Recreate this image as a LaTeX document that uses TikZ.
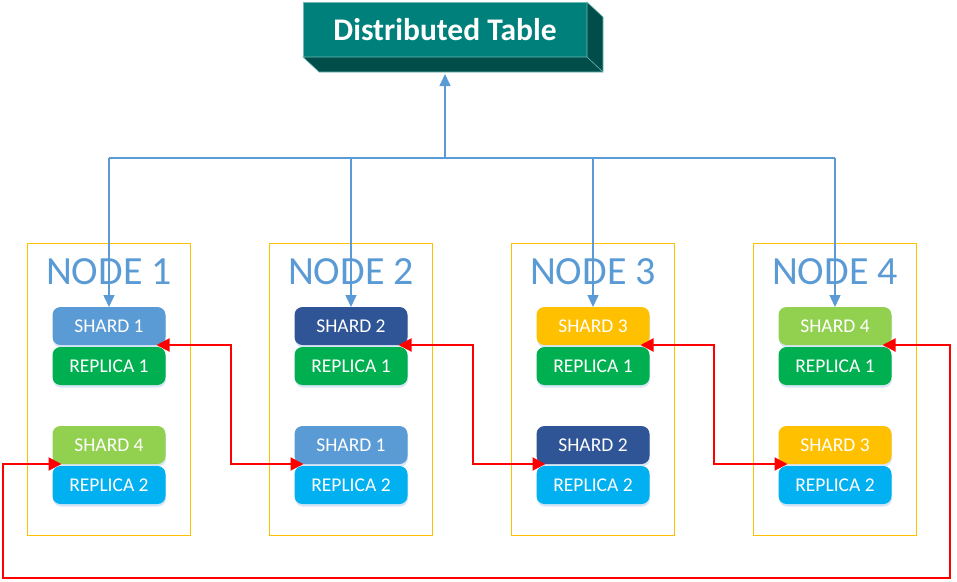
\documentclass[tikz,border=0pt]{standalone}
\usepackage{fontspec}
\setmainfont{Carlito}
\usetikzlibrary{arrows.meta,calc,shadows}

\definecolor{tealfront}{RGB}{0,128,122}
\definecolor{tealside}{RGB}{0,77,74}
\definecolor{tealedge}{RGB}{110,185,182}
\definecolor{feedblue}{RGB}{91,155,213}
\definecolor{hostgold}{RGB}{255,192,0}
\definecolor{shardA}{RGB}{91,155,213}
\definecolor{shardB}{RGB}{47,85,151}
\definecolor{shardC}{RGB}{255,192,0}
\definecolor{shardD}{RGB}{146,208,80}
\definecolor{replA}{RGB}{0,176,80}
\definecolor{replB}{RGB}{0,176,240}

\tikzset{
  titlebox/.style={fill=tealfront, draw=tealedge, line width=0.6pt, outer sep=0pt,
    minimum width=284pt, minimum height=55pt, text=white,
    font=\bfseries\fontsize{31.5}{31.5}\selectfont},
  hostbox/.style={draw=hostgold, line width=0.8pt, minimum width=163pt, minimum height=292pt},
  hostlabel/.style={text=feedblue, inner sep=0pt, font=\fontsize{40}{40}\selectfont},
  chip/.style={fill=#1, rounded corners=8pt, minimum width=113pt, minimum height=38pt,
    inner sep=0pt, outer sep=0pt, text=white, font=\fontsize{19.5}{20}\selectfont,
    drop shadow={shadow xshift=0.5pt, shadow yshift=-2.5pt, opacity=0.25, fill=feedblue}},
  feedline/.style={draw=feedblue, line width=1.5pt},
  feed/.style={feedline, -{Triangle[length=12pt,width=11pt]}},
  repl/.style={draw=red, line width=2pt,
    {Triangle[length=13pt,width=13pt]}-{Triangle[length=13pt,width=13pt]},
    shorten <=-9pt, shorten >=-9pt},
}

\begin{document}
\begin{tikzpicture}[x=1pt, y=-1pt]
  \useasboundingbox (0,0) rectangle (957,581);

  % table on top
  \node[titlebox] (title) at (445,29.5) {Distributed Table};
  \fill[tealside, draw=tealedge, line width=0.6pt]
    (title.south west) -- (title.south east) -- (title.north east)
    -- ++(16,15) -- ++(0,55) -- ++(-284,0) -- cycle;
  \draw[tealedge, line width=0.6pt] (title.south east) -- ++(16,15);

  % hosts
  \node[hostbox] (host1) at (109,389) {};
  \node[hostbox] (host2) at (351,389) {};
  \node[hostbox] (host3) at (593,389) {};
  \node[hostbox] (host4) at (835,389) {};
  \node[hostlabel] (lab1) at (109,272) {NODE 1};
  \node[hostlabel] (lab2) at (351,272) {NODE 2};
  \node[hostlabel] (lab3) at (593,272) {NODE 3};
  \node[hostlabel] (lab4) at (835,272) {NODE 4};

  % shards and replicas
  \node[chip=shardA] (sa1) at (109,326) {SHARD 1};
  \node[chip=replA]  (ra1) at (109,366) {REPLICA 1};
  \node[chip=shardD] (sb1) at (109,445) {SHARD 4};
  \node[chip=replB]  (rb1) at (109,485) {REPLICA 2};

  \node[chip=shardB] (sa2) at (351,326) {SHARD 2};
  \node[chip=replA]  (ra2) at (351,366) {REPLICA 1};
  \node[chip=shardA] (sb2) at (351,445) {SHARD 1};
  \node[chip=replB]  (rb2) at (351,485) {REPLICA 2};

  \node[chip=shardC] (sa3) at (593,326) {SHARD 3};
  \node[chip=replA]  (ra3) at (593,366) {REPLICA 1};
  \node[chip=shardB] (sb3) at (593,445) {SHARD 2};
  \node[chip=replB]  (rb3) at (593,485) {REPLICA 2};

  \node[chip=shardD] (sa4) at (835,326) {SHARD 4};
  \node[chip=replA]  (ra4) at (835,366) {REPLICA 1};
  \node[chip=shardC] (sb4) at (835,445) {SHARD 3};
  \node[chip=replB]  (rb4) at (835,485) {REPLICA 2};

  \coordinate (bus) at (445,158);
  \coordinate (loopR) at (950,578);
  \coordinate (loopL) at (3,578);

  % feeding the table
  \begin{scope}
    \draw[feed, shorten >=17pt] (bus) -- (title.south);
    \draw[feedline] (sa1.north |- bus) -- (sa4.north |- bus);
    \draw[feed] (sa1.north |- bus) -- (sa1.north);
    \draw[feed] (sa2.north |- bus) -- (sa2.north);
    \draw[feed] (sa3.north |- bus) -- (sa3.north);
    \draw[feed] (sa4.north |- bus) -- (sa4.north);
  \end{scope}

  % replication
  \begin{scope}
    \draw[repl] (sa1.south east) -- ++(65,0) |- (sb2.south west);
    \draw[repl] (sa2.south east) -- ++(65,0) |- (sb3.south west);
    \draw[repl] (sa3.south east) -- ++(64,0) |- (sb4.south west);
    \draw[repl] (sa4.south east) -| (loopR) -- (loopL) |- (sb1.south west);
  \end{scope}
\end{tikzpicture}
\end{document}
